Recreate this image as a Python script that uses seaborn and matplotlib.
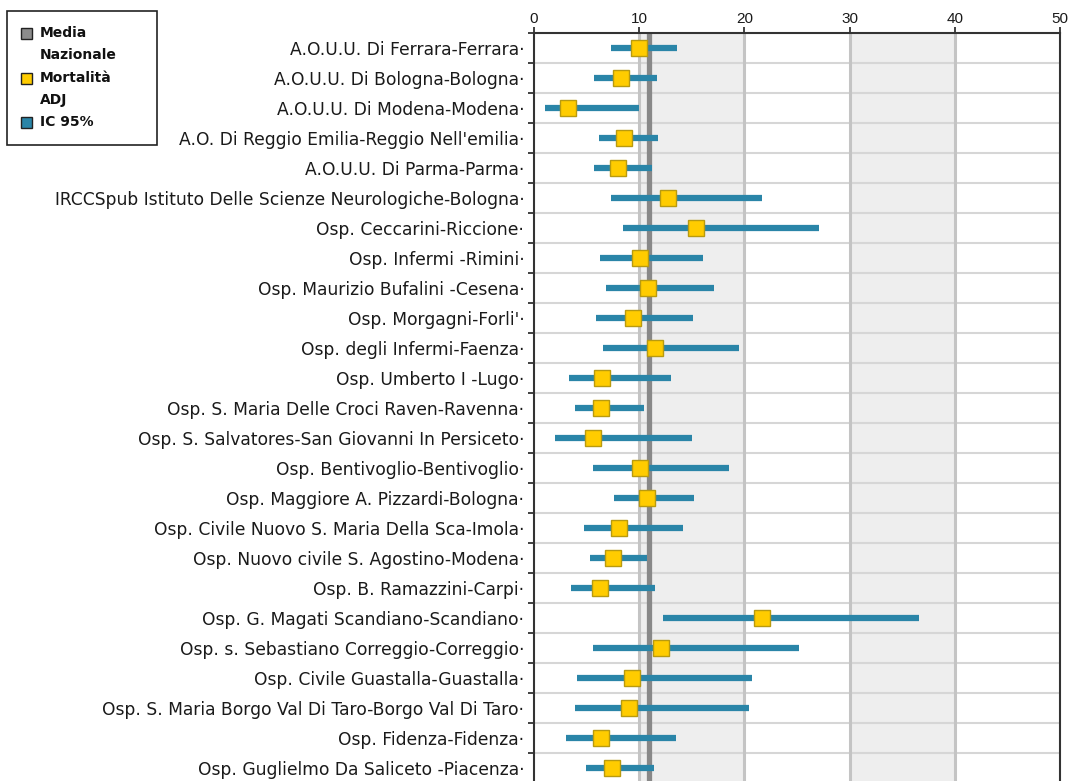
import numpy as np
import pandas as pd
import matplotlib
matplotlib.use("Agg")
import matplotlib.pyplot as plt
from matplotlib.patches import Rectangle
import seaborn as sns

# Hospitals (top to bottom) with adjusted mortality and 95% confidence interval
ospedali = [
    "A.O.U.U. Di Ferrara-Ferrara",
    "A.O.U.U. Di Bologna-Bologna",
    "A.O.U.U. Di Modena-Modena",
    "A.O. Di Reggio Emilia-Reggio Nell'emilia",
    "A.O.U.U. Di Parma-Parma",
    "IRCCSpub Istituto Delle Scienze Neurologiche-Bologna",
    "Osp. Ceccarini-Riccione",
    "Osp. Infermi -Rimini",
    "Osp. Maurizio Bufalini -Cesena",
    "Osp. Morgagni-Forli'",
    "Osp. degli Infermi-Faenza",
    "Osp. Umberto I -Lugo",
    "Osp. S. Maria Delle Croci Raven-Ravenna",
    "Osp. S. Salvatores-San Giovanni In Persiceto",
    "Osp. Bentivoglio-Bentivoglio",
    "Osp. Maggiore A. Pizzardi-Bologna",
    "Osp. Civile Nuovo S. Maria Della Sca-Imola",
    "Osp. Nuovo civile S. Agostino-Modena",
    "Osp. B. Ramazzini-Carpi",
    "Osp. G. Magati Scandiano-Scandiano",
    "Osp. s. Sebastiano Correggio-Correggio",
    "Osp. Civile Guastalla-Guastalla",
    "Osp. S. Maria Borgo Val Di Taro-Borgo Val Di Taro",
    "Osp. Fidenza-Fidenza",
    "Osp. Guglielmo Da Saliceto -Piacenza",
]
mortalita_adj = [10.0, 8.3, 3.2, 8.6, 8.0, 12.7, 15.4, 10.1, 10.8, 9.4,
                 11.5, 6.5, 6.4, 5.6, 10.1, 10.7, 8.1, 7.5, 6.3, 21.7,
                 12.1, 9.3, 9.0, 6.4, 7.4]
ic_inf = [7.3, 5.7, 1.0, 6.2, 5.7, 7.3, 8.5, 6.3, 6.8, 5.9,
          6.6, 3.3, 3.9, 2.0, 5.6, 7.6, 4.8, 5.3, 3.5, 12.3,
          5.6, 4.1, 3.9, 3.0, 4.9]
ic_sup = [13.6, 11.7, 10.0, 11.8, 11.2, 21.7, 27.1, 16.1, 17.1, 15.1,
          19.5, 13.0, 10.5, 15.0, 18.5, 15.2, 14.2, 10.7, 11.5, 36.6,
          25.2, 20.7, 20.4, 13.5, 11.4]
media_nazionale = 10.9
x_ticks = [0, 10, 20, 30, 40, 50]

# Long table: each hospital contributes lower bound, estimate and upper bound
df = pd.DataFrame({
    "ospedale": np.repeat(ospedali, 3),
    "valore": np.column_stack([ic_inf, mortalita_adj, ic_sup]).ravel(),
})

TEAL = "#2a85a8"
GOLD = "#ffcc00"
GOLD_EDGE = "#b89a10"
MEAN_GRAY = "#888888"
GRID = "#c4c4c4"
BAND = "#eeeeee"
AXIS = "#333333"

sns.set_style("white")
plt.rcParams["font.family"] = ["DejaVu Sans"]

W, H = 1071, 781
fig = plt.figure(figsize=(W / 100, H / 100), dpi=100)
top_px, row_px = 33.3, 30.0
n = len(ospedali)
ax_h = n * row_px
ax = fig.add_axes([534 / W, 1 - (top_px + ax_h) / H, (1060 - 534) / W, ax_h / H])

# alternating background bands and vertical grid
for a, b in [(10, 20), (30, 40)]:
    ax.axvspan(a, b, color=BAND, zorder=0, lw=0)
for t in x_ticks[1:-1]:
    ax.axvline(t, color=GRID, lw=2.2, zorder=1)
ax.axvline(media_nazionale, color=MEAN_GRAY, lw=3.8, zorder=2)

sns.pointplot(
    data=df, x="valore", y="ospedale", order=ospedali,
    estimator="median", errorbar=lambda v: (v.min(), v.max()),
    linestyle="none", marker="s", markersize=11,
    color=GOLD, markeredgecolor=GOLD_EDGE, markeredgewidth=1.0,
    err_kws={"color": TEAL, "linewidth": 4.5, "zorder": 3,
             "solid_capstyle": "butt"},
    zorder=4, ax=ax,
)

ax.set_xlim(0, 50)
ax.set_ylim(n - 0.5, -0.5)
ax.set_xticks(x_ticks)
ax.xaxis.tick_top()
ax.set_xlabel("")
ax.set_ylabel("")

ax.set_yticks(range(n))
ax.set_yticklabels([f"{o}·" for o in ospedali])
ax.set_yticks(np.arange(-0.5, n, 1), minor=True)
ax.grid(False)
ax.yaxis.grid(True, which="minor", color="#d6d6d6", lw=1.5, zorder=1)
ax.set_axisbelow(True)

ax.tick_params(axis="y", which="major", length=0, pad=7, labelsize=12.3,
               labelcolor="#1a1a1a")
ax.tick_params(axis="y", which="minor", length=4, width=1.3, color=AXIS,
               left=True)
ax.tick_params(axis="x", which="major", top=True, bottom=False, length=4,
               width=1.3, color=AXIS, pad=1, labelsize=10, labelcolor="#1a1a1a")
for lbl in ax.get_xticklabels():
    lbl.set_family(["Liberation Sans", "DejaVu Sans"])
    lbl.set_fontsize(11)

for side in ["left", "right", "top"]:
    ax.spines[side].set_visible(True)
    ax.spines[side].set_color(AXIS)
    ax.spines[side].set_linewidth(1.5)
ax.spines["bottom"].set_visible(False)

# legend panel
def fx(px):
    return px / W

def fy(py):
    return 1 - py / H

fig.patches.append(Rectangle((fx(7), fy(145)), fx(150), 134 / H,
                             transform=fig.transFigure, facecolor="white",
                             edgecolor="#222222", lw=1.2))
legend_rows = [
    ("Media", "#8c8c8c", 33),
    ("Nazionale", None, 55),
    ("Mortalità", GOLD, 78),
    ("ADJ", None, 100),
    ("IC 95%", TEAL, 122),
]
for text, col, y in legend_rows:
    if col is not None:
        fig.patches.append(Rectangle((fx(21), fy(y + 5.5)), fx(10.5), 10.5 / H,
                                     transform=fig.transFigure, facecolor=col,
                                     edgecolor="#222222", lw=1.0))
    fig.text(fx(40), fy(y), text, fontsize=10, fontweight="bold",
             color="#111111", va="center", ha="left")

fig.savefig("out.png", dpi=100)
